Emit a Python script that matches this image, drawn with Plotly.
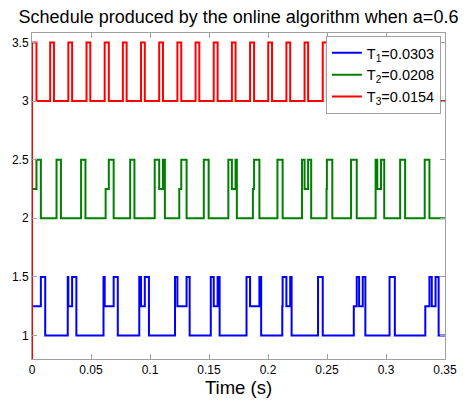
import plotly.graph_objects as go

# ---- data (transition times in s, level after the transition) ----
t1_times = [0, 0, 0.0075, 0.0112,
            0.0303, 0.0308, 0.0340, 0.0376,
            0.0606, 0.0616, 0.0692, 0.0727,
            0.0909, 0.0924, 0.0956, 0.0991,
            0.1212, 0.1232, 0.1310, 0.1336,
            0.1515, 0.1540, 0.1573, 0.1590,
            0.1818, 0.1848, 0.1927, 0.1942,
            0.2121, 0.2124, 0.2156, 0.2188, 0.2200,
            0.2424, 0.2464,
            0.2727, 0.2752, 0.2772, 0.2803, 0.2825,
            0.3030, 0.3075,
            0.3333, 0.3368, 0.3388, 0.3420, 0.3446,
            0.35]
t1_levels = [0, 1.25, 1.5, 1,
             1.5, 1.25, 1.5, 1,
             1.5, 1.25, 1.5, 1,
             1.5, 1.25, 1.5, 1,
             1.5, 1.25, 1.5, 1,
             1.5, 1.25, 1.5, 1,
             1.5, 1.25, 1.5, 1,
             1.25, 1.5, 1.25, 1.5, 1,
             1.5, 1,
             1.25, 1.5, 1.25, 1.5, 1,
             1.5, 1,
             1.25, 1.5, 1.25, 1.5, 1,
             1]

t2_times = [0, 0, 0.0038, 0.0075,
            0.0208, 0.0245,
            0.0416, 0.0453,
            0.0624, 0.0651, 0.0692,
            0.0832, 0.0868,
            0.1040, 0.1078, 0.1110, 0.1126,
            0.1248, 0.1265, 0.1310,
            0.1456, 0.1497,
            0.1664, 0.1694, 0.1725, 0.1736,
            0.1872, 0.1882, 0.1927,
            0.2080, 0.2124,
            0.2288, 0.2310, 0.2340, 0.2366,
            0.2496, 0.2499, 0.2545,
            0.2704, 0.2752,
            0.2912, 0.2926, 0.2958, 0.2985,
            0.3120, 0.3162,
            0.3328, 0.3368,
            0.35]
t2_levels = [0, 2.25, 2.5, 2,
             2.5, 2,
             2.5, 2,
             2.25, 2.5, 2,
             2.5, 2,
             2.5, 2.25, 2.5, 2,
             2.25, 2.5, 2,
             2.5, 2,
             2.5, 2.25, 2.5, 2,
             2.25, 2.5, 2,
             2.5, 2,
             2.5, 2.25, 2.5, 2,
             2.25, 2.5, 2,
             2.5, 2,
             2.5, 2.25, 2.5, 2,
             2.5, 2,
             2.5, 2,
             2]

t3_times = [0, 0, 0.0038,
            0.0154, 0.0186, 0.0308, 0.0340, 0.0462, 0.0494, 0.0616, 0.0651,
            0.0770, 0.0802, 0.0924, 0.0956, 0.1078, 0.1110, 0.1232, 0.1265,
            0.1386, 0.1418, 0.1540, 0.1573, 0.1694, 0.1725, 0.1848, 0.1882,
            0.2002, 0.2034, 0.2156, 0.2188, 0.2310, 0.2340, 0.2464, 0.2499,
            0.2618, 0.2650, 0.2772, 0.2803, 0.2926, 0.2958, 0.3080, 0.3112,
            0.3234, 0.3266, 0.3388, 0.3420,
            0.35]
t3_levels = [0, 3.5, 3,
             3.5, 3, 3.5, 3, 3.5, 3, 3.5, 3,
             3.5, 3, 3.5, 3, 3.5, 3, 3.5, 3,
             3.5, 3, 3.5, 3, 3.5, 3, 3.5, 3,
             3.5, 3, 3.5, 3, 3.5, 3, 3.5, 3,
             3.5, 3, 3.5, 3, 3.5, 3, 3.5, 3,
             3.5, 3, 3.5, 3,
             3]

series_names = ["T<sub>1</sub>=0.0303", "T<sub>2</sub>=0.0208", "T<sub>3</sub>=0.0154"]
series_colors = ["#0000FF", "#008000", "#FF0000"]

x_ticks = [0, 0.05, 0.1, 0.15, 0.2, 0.25, 0.3, 0.35]
x_tick_labels = ["0", "0.05", "0.1", "0.15", "0.2", "0.25", "0.3", "0.35"]
y_ticks = [1, 1.5, 2, 2.5, 3, 3.5]
y_tick_labels = ["1", "1.5", "2", "2.5", "3", "3.5"]

title_text = "Schedule produced by the online algorithm when a=0.6"
x_title = "Time (s)"

FONT = "Liberation Sans, Arial, sans-serif"

fig = go.Figure()
for xs, ys, name, col in zip([t1_times, t2_times, t3_times],
                             [t1_levels, t2_levels, t3_levels],
                             series_names, series_colors):
    fig.add_trace(go.Scatter(x=xs, y=ys, mode="lines", name=name,
                             line=dict(color=col, width=2, shape="hv")))

axis_common = dict(showgrid=False, zeroline=False, showline=True, linecolor="#A0A0A0",
                   linewidth=1, mirror="ticks", ticks="inside", ticklen=5,
                   tickcolor="#A0A0A0", tickfont=dict(family=FONT, size=12, color="black"))

fig.update_layout(
    width=469, height=402,
    margin=dict(l=30, r=23, t=33, b=41),
    paper_bgcolor="white", plot_bgcolor="white",
    title=dict(text=title_text, x=0.5, xref="paper", xanchor="center",
               y=0.958, yref="container", yanchor="middle",
               font=dict(family=FONT, size=18, color="black")),
    xaxis=dict(range=[0, 0.35], tickvals=x_ticks, ticktext=x_tick_labels,
               title=dict(text=x_title, font=dict(family=FONT, size=18.5, color="black"),
                          standoff=0),
               **axis_common),
    yaxis=dict(range=[0.8, 3.58], tickvals=y_ticks, ticktext=y_tick_labels,
               **axis_common),
    legend=dict(x=0.99, y=0.991, xanchor="right", yanchor="top",
                bgcolor="white", bordercolor="#A0A0A0", borderwidth=1,
                font=dict(family=FONT, size=14.5, color="black"),
                tracegroupgap=0),
    showlegend=True,
)

fig.write_html("out.html")
